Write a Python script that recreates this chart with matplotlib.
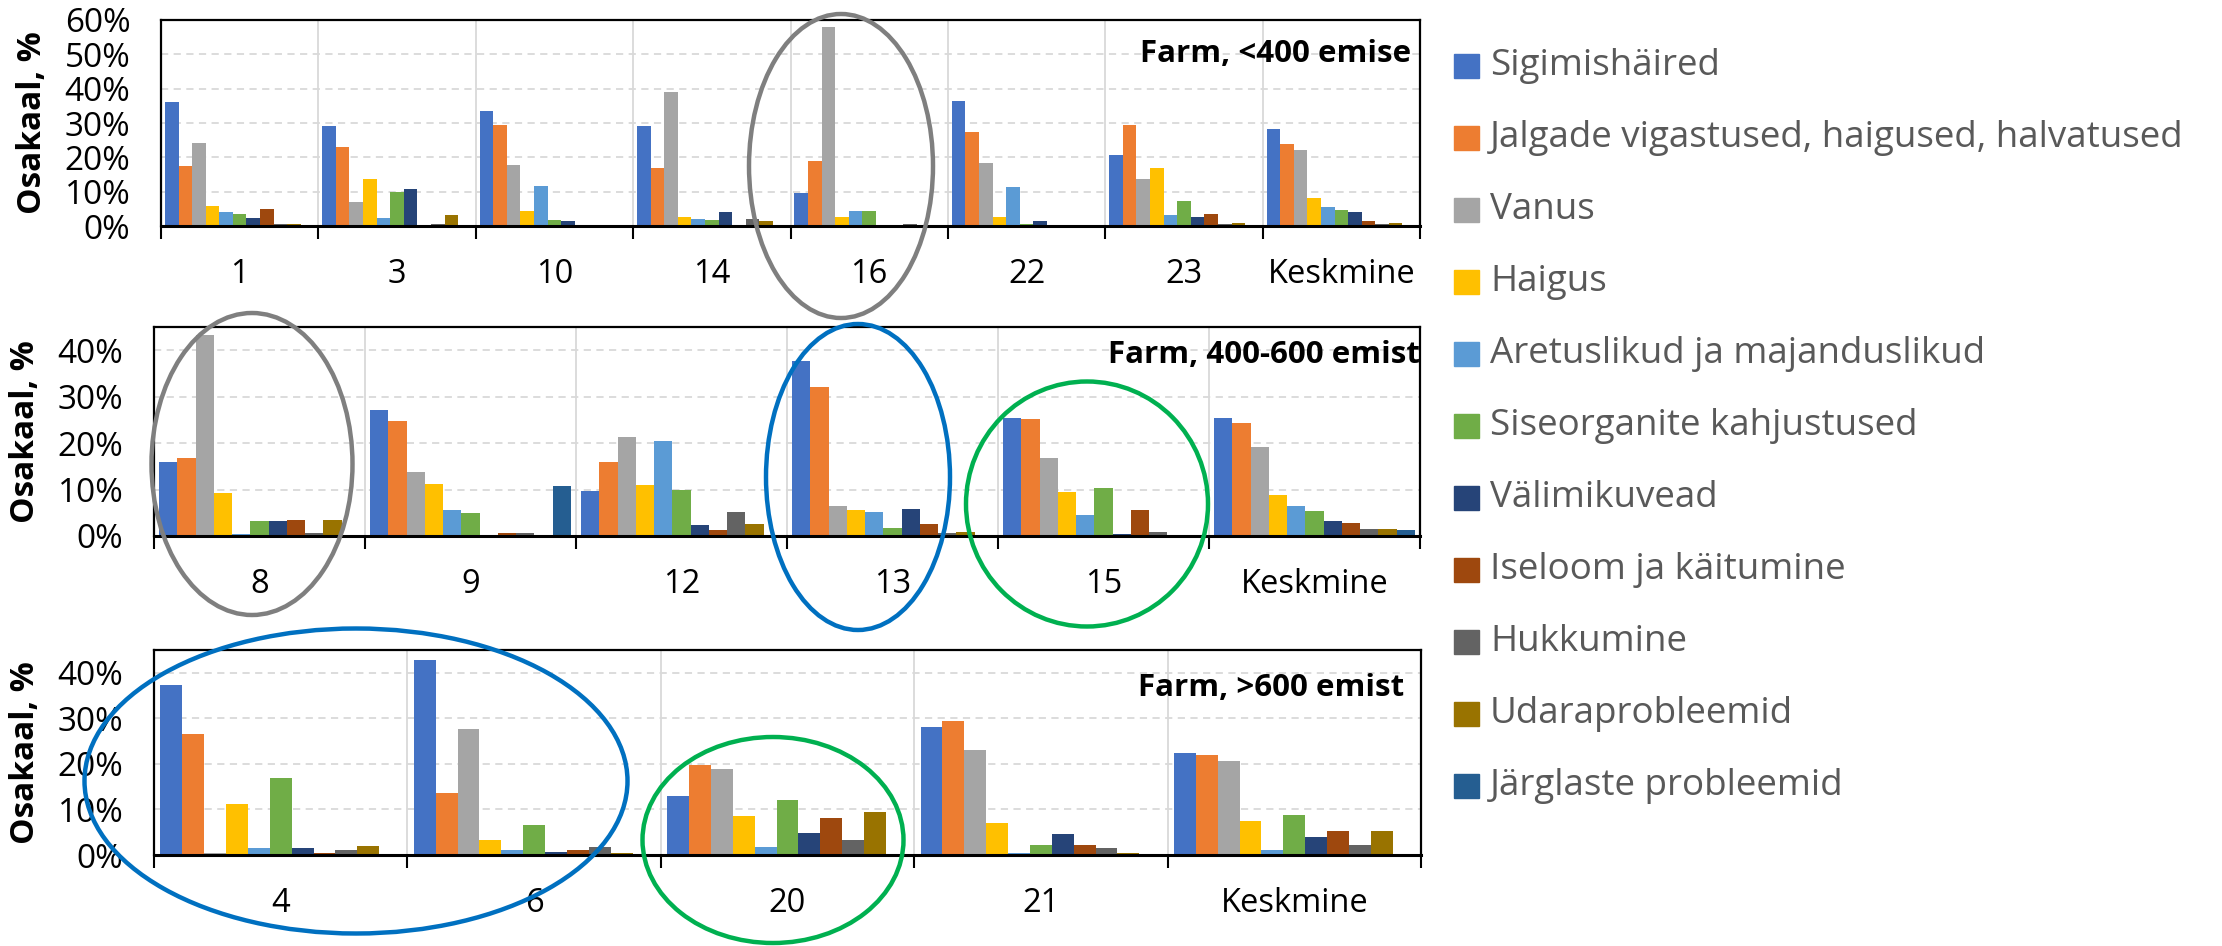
import numpy as np
import matplotlib
matplotlib.use('Agg')
import matplotlib.pyplot as plt
from matplotlib.patches import Ellipse, Rectangle
from matplotlib.ticker import PercentFormatter

plt.rcParams['font.family'] = ['Open Sans', 'DejaVu Sans']

# --- data (percent of culled sows by reason) ---
series = ['Sigimishäired', 'Jalgade vigastused, haigused, halvatused', 'Vanus',
          'Haigus', 'Aretuslikud ja majanduslikud', 'Siseorganite kahjustused',
          'Välimikuvead', 'Iseloom ja käitumine', 'Hukkumine', 'Udaraprobleemid',
          'Järglaste probleemid']
colors = ['#4472C4', '#ED7D31', '#A5A5A5', '#FFC000', '#5B9BD5', '#70AD47',
          '#264478', '#9E480E', '#636363', '#997300', '#255E91']

# farms <400 sows, one row per farm, values in series order
cats_small = ['1', '3', '10', '14', '16', '22', '23', 'Keskmine']
vals_small = [
    [36.0, 17.5, 24.2, 5.8, 4.0, 3.5, 2.4, 5.0, 0.5, 0.5, 0.0],
    [29.0, 23.0, 7.0, 13.6, 2.4, 10.0, 10.7, 0.0, 0.5, 3.1, 0.0],
    [33.5, 29.3, 17.8, 4.4, 11.7, 1.7, 1.4, 0.0, 0.0, 0.0, 0.0],
    [29.0, 17.0, 39.0, 2.7, 2.0, 1.7, 4.0, 0.0, 2.0, 1.4, 0.0],
    [9.5, 18.8, 58.0, 2.7, 4.3, 4.3, 0.0, 0.0, 0.5, 0.0, 0.0],
    [36.4, 27.5, 18.4, 2.7, 11.4, 0.5, 1.4, 0.0, 0.0, 0.0, 0.0],
    [20.7, 29.3, 13.6, 17.0, 3.1, 7.2, 2.7, 3.6, 0.5, 1.0, 0.0],
    [28.2, 23.8, 22.2, 8.1, 5.4, 4.7, 4.0, 1.4, 0.5, 1.0, 0.0],
]

# farms 400-600 sows
cats_mid = ['8', '9', '12', '13', '15', 'Keskmine']
vals_mid = [
    [16.0, 16.9, 43.3, 9.3, 0.4, 3.2, 3.2, 3.5, 0.7, 3.5, 0.0],
    [27.2, 24.7, 13.7, 11.3, 5.7, 4.9, 0.0, 0.7, 0.7, 0.0, 10.7],
    [9.6, 16.0, 21.3, 11.0, 20.5, 9.9, 2.4, 1.2, 5.1, 2.6, 0.0],
    [37.7, 32.1, 6.5, 5.6, 5.1, 1.7, 5.9, 2.6, 0.7, 0.9, 0.0],
    [25.5, 25.2, 16.9, 9.5, 4.6, 10.3, 0.4, 5.6, 0.9, 0.0, 0.0],
    [25.5, 24.4, 19.1, 8.8, 6.5, 5.4, 3.2, 2.9, 1.4, 1.4, 1.2],
]

# farms >600 sows
cats_large = ['4', '6', '20', '21', 'Keskmine']
vals_large = [
    [37.3, 26.5, 0.4, 11.3, 1.5, 16.9, 1.5, 0.4, 1.2, 2.0, 0.0],
    [42.9, 13.6, 27.6, 3.2, 1.2, 6.5, 0.7, 1.2, 1.7, 0.4, 0.0],
    [13.0, 19.7, 18.8, 8.5, 1.7, 12.1, 4.9, 8.2, 3.2, 9.4, 0.0],
    [28.1, 29.5, 23.1, 7.1, 0.4, 2.3, 4.6, 2.3, 1.5, 0.4, 0.0],
    [22.5, 22.0, 20.6, 7.4, 1.2, 8.8, 4.0, 5.2, 2.3, 5.2, 0.0],
]

W, H = 2222, 946
fig = plt.figure(figsize=(W / 100, H / 100), dpi=100)


def px_box(left, top, right, bottom):
    return [left / W, 1 - bottom / H, (right - left) / W, (bottom - top) / H]


# (categories, values, ymax, title, axes box in px, title x, title y)
panels = [
    (cats_small, vals_small, 60, 'Farm, <400 emise', (161, 20, 1420, 226), 0.993, 0.835),
    (cats_mid, vals_mid, 45, 'Farm, 400-600 emist', (154, 327, 1420, 536), 1.0, 0.866),
    (cats_large, vals_large, 45, 'Farm, >600 emist', (154, 650, 1421, 855), 0.987, 0.815),
]

group = 0.95
bw = group / len(series)

for cats, vals, ymax, title, box, tx, ty in panels:
    ax = fig.add_axes(px_box(*box))
    arr = np.array(vals)
    n = len(cats)
    x = np.arange(n)
    for j in range(len(series)):
        ax.bar(x - group / 2 + (j + 0.5) * bw, arr[:, j], bw, color=colors[j], zorder=3)

    ax.set_xlim(-0.5, n - 0.5)
    ax.set_ylim(0, ymax)
    ax.set_xticks(x)
    ax.set_xticklabels(cats)
    ax.set_xticks(np.arange(n + 1) - 0.5, minor=True)
    ax.set_yticks(np.arange(0, ymax + 0.01, 10))
    ax.yaxis.set_major_formatter(PercentFormatter(decimals=0))

    ax.tick_params(axis='x', which='major', length=0, pad=23, labelsize=23.5)
    ax.tick_params(axis='x', which='minor', length=9, width=1.5, color='black')
    ax.tick_params(axis='y', length=0, pad=22, labelsize=24)

    ax.grid(axis='y', which='major', linestyle=(0, (4, 3)), color='#D9D9D9', lw=1.3)
    ax.grid(axis='x', which='minor', color='#D9D9D9', lw=1.3)
    ax.grid(axis='x', which='major', visible=False)
    ax.set_axisbelow(True)
    for s in ax.spines.values():
        s.set_linewidth(1.6)
        s.set_color('black')
    ax.spines['bottom'].set_linewidth(2.2)
    ax.spines['bottom'].set_zorder(4)

    ax.set_ylabel('Osakaal, %', fontsize=24, fontweight='bold')
    ax.yaxis.set_label_coords(-112 / (box[2] - box[0]), 0.5)
    ax.text(tx, ty, title, transform=ax.transAxes, ha='right', va='center',
            fontsize=22.5, fontweight='bold', zorder=5)

# highlight ellipses (centre x, centre y, width, height in px)
ellipses = [
    (841, 166, 184, 304, '#7F7F7F'),
    (252, 464, 201, 302, '#7F7F7F'),
    (858, 477, 184, 306, '#0070C0'),
    (1087, 504, 242, 245, '#00B050'),
    (356, 781, 543, 305, '#0070C0'),
    (773, 840, 261, 206, '#00B050'),
]
for cx, cy, ew, eh, c in ellipses:
    fig.add_artist(Ellipse((cx / W, 1 - cy / H), ew / W, eh / H, transform=fig.transFigure,
                           fill=False, edgecolor=c, lw=3.2, zorder=10))

# legend
for i, (name, c) in enumerate(zip(series, colors)):
    yc = 66 + 72 * i
    fig.add_artist(Rectangle((1454 / W, 1 - (yc + 12) / H), 25 / W, 24 / H,
                             transform=fig.transFigure, color=c))
    fig.text(1490 / W, 1 - yc / H, name, fontsize=26.5, color='#595959', va='center')

fig.savefig('out.png', dpi=100)
